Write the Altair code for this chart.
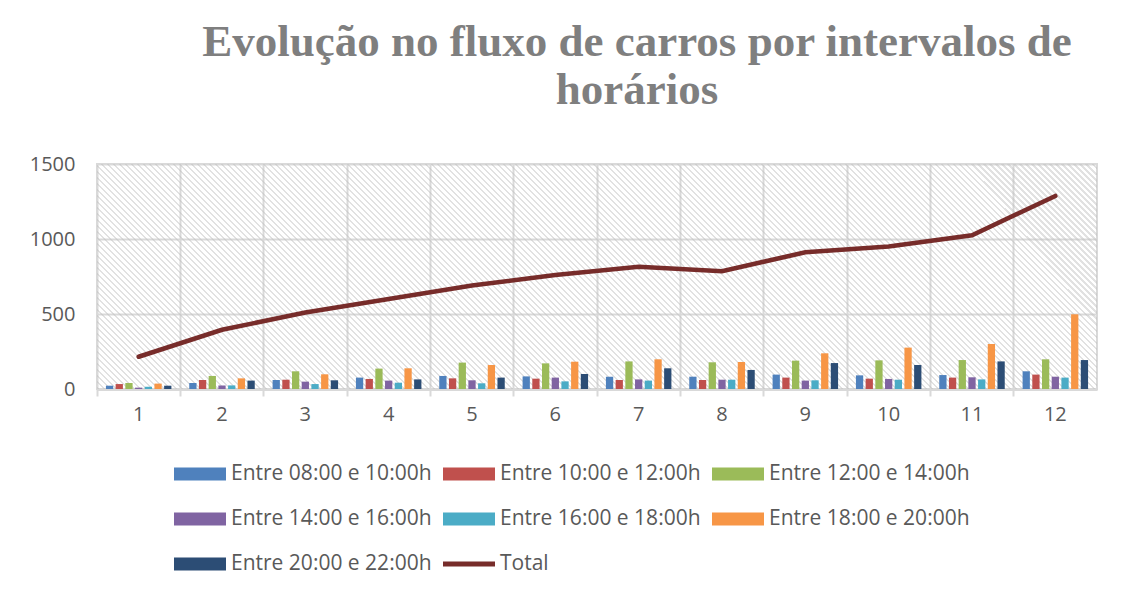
import altair as alt
import pandas as pd

dias = [str(i) for i in range(1, 13)]

series = [
    "Entre 08:00 e 10:00h",
    "Entre 10:00 e 12:00h",
    "Entre 12:00 e 14:00h",
    "Entre 14:00 e 16:00h",
    "Entre 16:00 e 18:00h",
    "Entre 18:00 e 20:00h",
    "Entre 20:00 e 22:00h",
]

s_08_10 = [22, 40, 60, 76, 87, 84, 82, 82, 96, 91, 93, 118]
s_10_12 = [33, 60, 62, 67, 71, 69, 60, 60, 76, 69, 76, 96]
s_12_14 = [40, 87, 118, 136, 176, 171, 184, 178, 189, 191, 193, 198]
s_14_16 = [9, 24, 49, 56, 58, 76, 64, 62, 56, 67, 78, 82]
s_16_18 = [15, 24, 33, 42, 38, 51, 56, 62, 58, 62, 64, 76]
s_18_20 = [36, 71, 98, 138, 160, 182, 198, 180, 238, 276, 300, 498]
s_20_22 = [22, 56, 58, 64, 76, 100, 138, 127, 173, 160, 184, 193]
total = [215, 395, 510, 600, 690, 760, 815, 785, 912, 950, 1025, 1287]

valores = [s_08_10, s_10_12, s_12_14, s_14_16, s_16_18, s_18_20, s_20_22]

rows = []
for s, vals in zip(series, valores):
    for d, v in zip(dias, vals):
        rows.append({"dia": d, "serie": s, "valor": v})
bars_df = pd.DataFrame(rows)
line_df = pd.DataFrame({"dia": dias, "serie": ["Total"] * len(dias), "valor": total})

domain = series + ["Total"]
colors = ["#4f81bd", "#c0504d", "#9bbb59", "#8064a2", "#4bacc6", "#f79646", "#2c4d75", "#772c2a"]
color_scale = alt.Scale(domain=domain, range=colors)

RECT = "M-1,-0.25H1V0.25H-1Z"
THIN = "M-1,-0.1H1V0.1H-1Z"

legend = alt.Legend(
    orient="none", legendX=77, legendY=284, columns=3, direction="horizontal",
    title=None,
    symbolType=alt.ExprRef(expr=f"datum.value === 'Total' ? '{THIN}' : '{RECT}'"),
    symbolSize=2704, symbolStrokeWidth=0, symbolOpacity=1,
    labelFont="Open Sans", labelFontSize=21, labelColor="#595959", labelLimit=0,
    labelOffset=5, rowPadding=9, columnPadding=11, padding=0,
)

# diagonal hatch pattern for the plot background (light downward diagonal)
n_stripes = 204
stops = []
for i in range(n_stripes):
    a = i / n_stripes
    b = (i + 0.35) / n_stripes
    c = (i + 1) / n_stripes
    stops += [
        {"offset": a, "color": "rgba(190,190,190,0.45)"},
        {"offset": b, "color": "rgba(190,190,190,0.45)"},
        {"offset": b, "color": "rgba(255,255,255,0)"},
        {"offset": c, "color": "rgba(255,255,255,0)"},
    ]
hatch = alt.LinearGradient(gradient="linear", x1=0, y1=1, x2=1.166, y2=0.7376, stops=stops)

x = alt.X(
    "dia:N", sort=dias, title=None,
    scale=alt.Scale(paddingInner=0, paddingOuter=0),
    axis=alt.Axis(
        bandPosition=0, grid=True, gridColor="#d9d9d9", gridWidth=2,
        ticks=True, tickSize=7, tickColor="#d9d9d9", tickWidth=2,
        domainColor="#d9d9d9", domainWidth=3,
        labelAngle=0, labelPadding=8,
        labelFont="Open Sans", labelFontSize=20, labelColor="#595959",
    ),
)
y = alt.Y(
    "valor:Q", title=None,
    scale=alt.Scale(domain=[0, 1500], nice=False),
    axis=alt.Axis(
        values=[0, 500, 1000, 1500], format="d", grid=True, gridColor="#d9d9d9", gridWidth=2,
        ticks=False, domain=False, labelPadding=22,
        labelFont="Open Sans", labelFontSize=20, labelColor="#595959",
    ),
)

background = alt.Chart(pd.DataFrame({"bg": [0]})).mark_rect(fill=hatch).encode(
    x=alt.value(0), x2=alt.value("width"), y=alt.value(0), y2=alt.value("height"),
)

bars = alt.Chart(bars_df).mark_bar().encode(
    x=x,
    y=y,
    xOffset=alt.XOffset("serie:N", sort=series,
                        scale=alt.Scale(paddingInner=0.25, paddingOuter=0.92)),
    color=alt.Color("serie:N", scale=color_scale, legend=legend),
)

line = alt.Chart(line_df).mark_line(strokeWidth=4.5, strokeCap="round").encode(
    x=x,
    y=y,
    color=alt.Color("serie:N", scale=color_scale, legend=legend),
)

chart = alt.layer(background, bars, line).properties(
    width=1000,
    height=225,
    padding={"left": 89, "top": 156, "right": 19, "bottom": 192},
    autosize=alt.AutoSizeParams(type="none"),
    title=alt.TitleParams(
        text=["Evolução no fluxo de carros por intervalos de", "horários"],
        font="Liberation Serif", fontSize=45, fontWeight="bold", color="#7f7f7f",
        anchor="middle", dx=40, lineHeight=48, offset=41, frame="group",
    ),
).configure_view(fill="white", stroke="#d9d9d9", strokeWidth=2)

chart.save("out.html", embed_options={"renderer": "svg", "actions": False})
